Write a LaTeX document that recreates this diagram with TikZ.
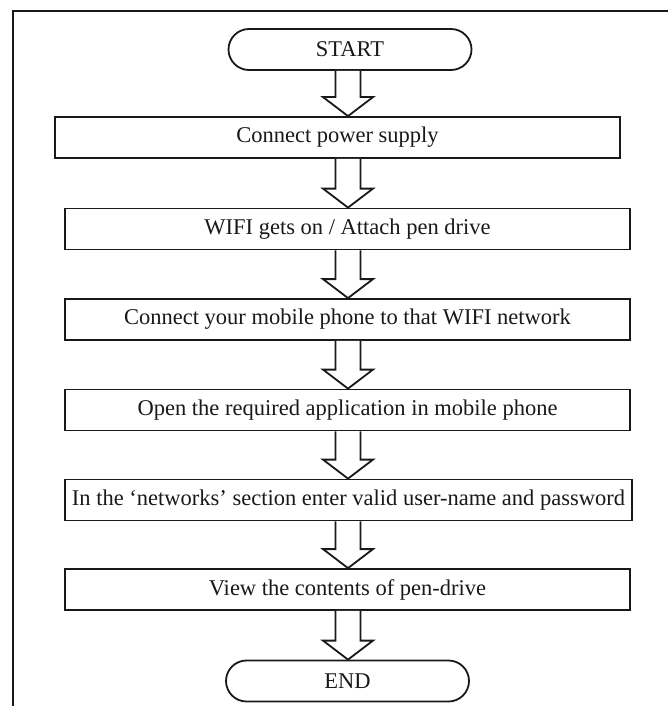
\documentclass[tikz,border=0pt]{standalone}
\usepackage{fontspec}
\setmainfont{Liberation Serif}
\usetikzlibrary{calc,shapes.misc}

\begin{document}
\begin{tikzpicture}[x=1pt, y=-1pt, line width=1.8pt, color=black!90,
		step box/.style={rectangle, draw, fill=white, minimum width=565, minimum height=41, inner sep=0pt, font=\fontsize{22.5}{26}\selectfont},
		term box/.style={rounded rectangle, draw, fill=white, minimum width=243, minimum height=41, inner sep=0pt, font=\fontsize{22.5}{26}\selectfont},
		block arrow/.style={draw, line join=miter, fill=white}]
		\useasboundingbox (0,0) rectangle (668,706);
		% frame, cut off at right and bottom
		\draw[line width=2.2pt] (668,11) -- (13,11) -- (13,706);

		\coordinate (axis) at (348,0);

		\node[term box](start) at (350,49.5){START};
		\node[step box](power) at (337.5,137.5){Connect power supply};
		\node[step box](wifi) at (347.5,229){WIFI gets on / Attach pen drive};
		\node[step box](phone) at (347.5,319.5){Connect your mobile phone to that WIFI network};
		\node[step box](app) at (347.5,410){Open the required application in mobile phone};
		\node[step box, minimum width=567](login) at (348.5,500){In the `networks' section enter valid user-name and password};
		\node[step box](view) at (347.5,589.5){View the contents of pen-drive};
		\node[term box](stop) at (347.5,681){END};

		\foreach \a/\b in {start/power, power/wifi, wifi/phone, phone/app, app/login, login/view, view/stop}
		\draw[block arrow] ($(\a.south -| axis)+(-12.5,0)$) -- ($(\b.north -| axis)+(-12.5,-19)$) -- ++(-12.5,0) -- (\b.north -| axis) -- ++(25,-19) -- ++(-12.5,0) -- ($(\a.south -| axis)+(12.5,0)$);
	\end{tikzpicture}
\end{document}
